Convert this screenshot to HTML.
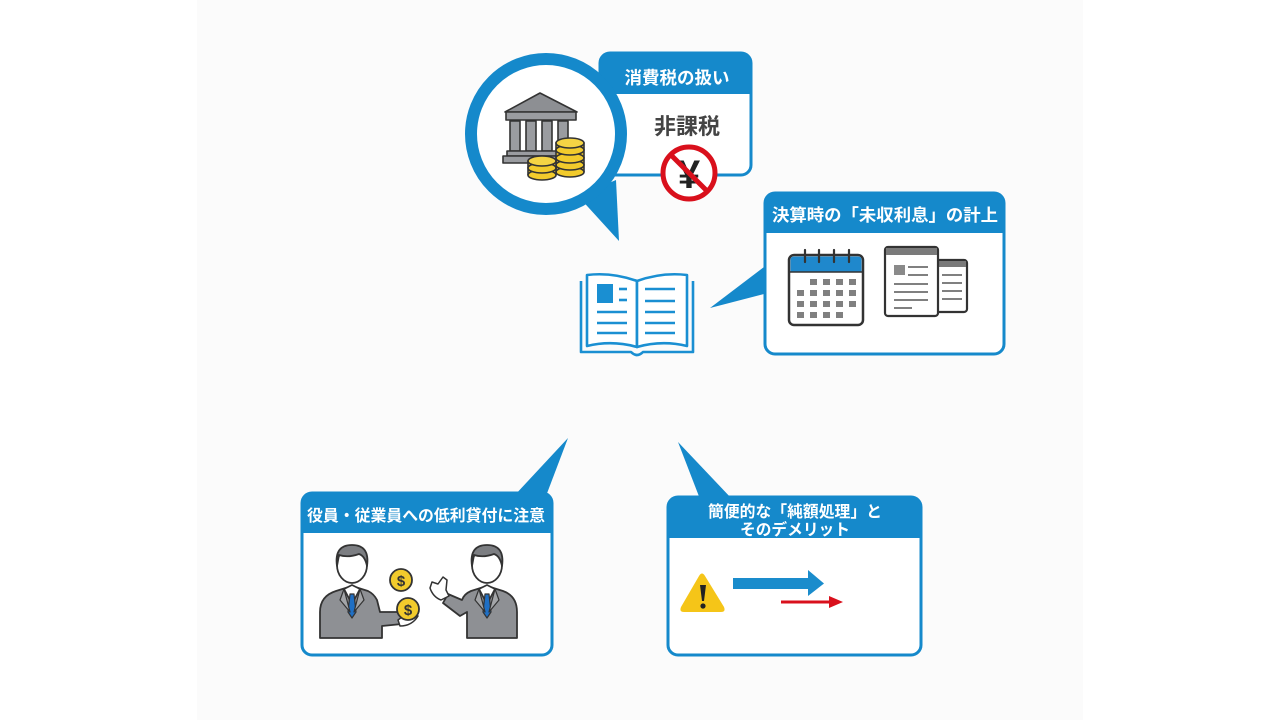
<!DOCTYPE html>
<html>
<head>
<meta charset="utf-8">
<style>
html,body{margin:0;padding:0;background:#fff;}
body{width:1280px;height:720px;overflow:hidden;}
svg{display:block;}
text{font-family:"Liberation Sans","Noto Sans CJK JP",sans-serif;font-weight:bold;}
</style>
</head>
<body>
<svg width="1280" height="720" viewBox="0 0 1280 720" xmlns="http://www.w3.org/2000/svg">
  <rect x="0" y="0" width="1280" height="720" fill="#ffffff"/>
  <rect x="197" y="0" width="886" height="720" fill="#fbfbfb"/>

  <!-- ============ TOP BUBBLE ============ -->
  <rect x="600" y="53" width="151" height="122" rx="10" fill="#ffffff" stroke="#1589cb" stroke-width="3"/>
  <path d="M600,94 L600,63 Q600,53 610,53 L741,53 Q751,53 751,63 L751,94 Z" fill="#1589cb"/>
  <text x="677" y="84" font-size="17.5" fill="#ffffff" text-anchor="middle">消費税の扱い</text>
  <text x="687" y="134" font-size="22" fill="#444444" text-anchor="middle">非課税</text>

  <polygon points="578,196 619,241 616,180" fill="#1589cb"/>
  <circle cx="546" cy="134" r="75" fill="#ffffff" stroke="#1589cb" stroke-width="12"/>

  <!-- bank icon -->
  <g stroke="#333" stroke-width="1.6" stroke-linejoin="round">
    <polygon points="540,93 577,112 505,112" fill="#8d8f93"/>
    <rect x="506" y="112" width="70" height="8" fill="#9a9ca0"/>
    <rect x="510" y="121" width="10" height="30" fill="#9a9ca0"/>
    <rect x="526" y="121" width="10" height="30" fill="#9a9ca0"/>
    <rect x="542" y="121" width="10" height="30" fill="#9a9ca0"/>
    <rect x="558" y="121" width="10" height="30" fill="#9a9ca0"/>
    <rect x="507" y="151" width="64" height="5" fill="#9a9ca0"/>
    <rect x="503" y="156" width="60" height="7" fill="#9a9ca0"/>
    <!-- right coin stack -->
    <rect x="556" y="143" width="28" height="29" fill="#f2cb2c"/>
    <ellipse cx="570" cy="172" rx="14" ry="5" fill="#f2cb2c"/>
    <ellipse cx="570" cy="165" rx="14" ry="5" fill="#f2cb2c"/>
    <ellipse cx="570" cy="158" rx="14" ry="5" fill="#f2cb2c"/>
    <ellipse cx="570" cy="150" rx="14" ry="5" fill="#f2cb2c"/>
    <ellipse cx="570" cy="143" rx="14" ry="5" fill="#f5d444"/>
    <!-- left coin stack -->
    <rect x="528" y="161" width="28" height="14" fill="#f2cb2c"/>
    <ellipse cx="542" cy="175" rx="14" ry="5" fill="#f2cb2c"/>
    <ellipse cx="542" cy="168" rx="14" ry="5" fill="#f2cb2c"/>
    <ellipse cx="542" cy="161" rx="14" ry="5" fill="#f5d444"/>
  </g>

  <!-- no-yen sign -->
  <circle cx="689" cy="173" r="26" fill="#ffffff" stroke="#d9101c" stroke-width="5"/>
  <text x="689" y="188" font-size="40" fill="#222" text-anchor="middle">¥</text>
  <line x1="671" y1="155" x2="707" y2="191" stroke="#d9101c" stroke-width="5"/>

  <!-- ============ RIGHT BUBBLE ============ -->
  <polygon points="768,264 710,308 768,293" fill="#1589cb"/>
  <rect x="765" y="193" width="239" height="161" rx="10" fill="#ffffff" stroke="#1589cb" stroke-width="3"/>
  <path d="M765,233 L765,203 Q765,193 775,193 L994,193 Q1004,193 1004,203 L1004,233 Z" fill="#1589cb"/>
  <text x="885" y="221" font-size="17" fill="#ffffff" text-anchor="middle" textLength="226" lengthAdjust="spacingAndGlyphs">決算時の「未収利息」の計上</text>

  <!-- calendar -->
  <g>
    <rect x="789" y="255" width="74" height="70" rx="5" fill="#ffffff" stroke="#333" stroke-width="2.5"/>
    <path d="M790.5,272 L790.5,260 Q790.5,256.5 794,256.5 L858,256.5 Q861.5,256.5 861.5,260 L861.5,272 Z" fill="#1f88cc"/>
    <line x1="790" y1="272" x2="862" y2="272" stroke="#333" stroke-width="1.5"/>
    <g stroke="#333" stroke-width="2.2" stroke-linecap="round">
      <line x1="805" y1="250" x2="805" y2="262"/>
      <line x1="819" y1="250" x2="819" y2="262"/>
      <line x1="834" y1="250" x2="834" y2="262"/>
      <line x1="849" y1="250" x2="849" y2="262"/>
    </g>
    <g fill="#808080">
      <rect x="810" y="279" width="7" height="6"/><rect x="823" y="279" width="7" height="6"/><rect x="836" y="279" width="7" height="6"/><rect x="849" y="279" width="7" height="6"/>
      <rect x="797" y="290" width="7" height="6"/><rect x="810" y="290" width="7" height="6"/><rect x="823" y="290" width="7" height="6"/><rect x="836" y="290" width="7" height="6"/><rect x="849" y="290" width="7" height="6"/>
      <rect x="797" y="301" width="7" height="6"/><rect x="810" y="301" width="7" height="6"/><rect x="823" y="301" width="7" height="6"/><rect x="836" y="301" width="7" height="6"/><rect x="849" y="301" width="7" height="6"/>
      <rect x="797" y="312" width="7" height="6"/><rect x="810" y="312" width="7" height="6"/><rect x="823" y="312" width="7" height="6"/><rect x="836" y="312" width="7" height="6"/>
    </g>
  </g>

  <!-- documents -->
  <g>
    <rect x="934" y="260" width="33" height="52" rx="3" fill="#ffffff" stroke="#333" stroke-width="2.2"/>
    <rect x="935" y="261" width="31" height="6" fill="#7a7a7a"/>
    <g stroke="#808080" stroke-width="2">
      <line x1="942" y1="275" x2="962" y2="275"/>
      <line x1="942" y1="283" x2="962" y2="283"/>
      <line x1="942" y1="291" x2="962" y2="291"/>
      <line x1="942" y1="299" x2="962" y2="299"/>
    </g>
    <rect x="885" y="247" width="53" height="69" rx="3" fill="#ffffff" stroke="#333" stroke-width="2.2"/>
    <rect x="886" y="248" width="51" height="7" fill="#7a7a7a"/>
    <rect x="894" y="265" width="11" height="10" fill="#8a8a8a"/>
    <g stroke="#808080" stroke-width="2">
      <line x1="908" y1="267" x2="928" y2="267"/>
      <line x1="908" y1="275" x2="928" y2="275"/>
      <line x1="894" y1="284" x2="928" y2="284"/>
      <line x1="894" y1="292" x2="928" y2="292"/>
      <line x1="894" y1="300" x2="928" y2="300"/>
      <line x1="894" y1="308" x2="912" y2="308"/>
    </g>
  </g>

  <!-- ============ BOOK ============ -->
  <g fill="none" stroke="#1a8fd2" stroke-width="2.6" stroke-linejoin="round">
    <path d="M581,281 L581,352 L631,352 Q637,358 643,352 L693,352 L693,281"/>
    <path d="M587,275 Q612,272 637,281 L637,347 Q612,340 587,346 Z" fill="#ffffff"/>
    <path d="M687,275 Q662,272 637,281 L637,347 Q662,340 687,346 Z" fill="#ffffff"/>
  </g>
  <rect x="597" y="284" width="16" height="19" fill="#1a8fd2"/>
  <g stroke="#1a8fd2" stroke-width="2.6">
    <line x1="619" y1="289" x2="627" y2="289"/>
    <line x1="619" y1="300" x2="627" y2="300"/>
    <line x1="597" y1="312" x2="627" y2="312"/>
    <line x1="597" y1="323" x2="627" y2="323"/>
    <line x1="597" y1="333" x2="627" y2="333"/>
    <line x1="645" y1="289" x2="675" y2="289"/>
    <line x1="645" y1="301" x2="675" y2="301"/>
    <line x1="645" y1="312" x2="675" y2="312"/>
    <line x1="645" y1="323" x2="675" y2="323"/>
    <line x1="645" y1="333" x2="675" y2="333"/>
  </g>

  <!-- ============ BOTTOM LEFT BUBBLE ============ -->
  <polygon points="514,496 568,438 546,496" fill="#1589cb"/>
  <rect x="302" y="493" width="250" height="162" rx="10" fill="#ffffff" stroke="#1589cb" stroke-width="3"/>
  <path d="M302,533 L302,503 Q302,493 312,493 L542,493 Q552,493 552,503 L552,533 Z" fill="#1589cb"/>
  <text x="426" y="521" font-size="16" fill="#ffffff" text-anchor="middle" textLength="238" lengthAdjust="spacingAndGlyphs">役員・従業員への低利貸付に注意</text>

  <!-- left man -->
  <g stroke="#333" stroke-width="1.8" stroke-linejoin="round" stroke-linecap="round">
    <path d="M320,638 L320,612 Q320,596 336,591 L352,586 L368,591 Q374,594 377,600 L380,612 L402,612 L402,624 L382,626 L382,638 Z" fill="#8e9094"/>
    <path d="M344,589 L352,604 L360,589 L352,585 Z" fill="#ffffff"/>
    <path d="M350,594 L354,594 L356,612 L352,618 L348,612 Z" fill="#1f6fc4" stroke-width="1.2"/>
    <path d="M344,589 L340,600 L350,612 Z M360,589 L364,600 L354,612 Z" fill="#a3a5a8" stroke-width="1.2"/>
    <ellipse cx="352" cy="565" rx="15" ry="18" fill="#ffffff"/>
    <path d="M337,566 Q334,545 352,545 Q370,545 367,566 Q365,556 359,554 Q348,558 339,555 Z" fill="#7c7e82"/>
    <path d="M398,620 Q408,612 418,616 Q412,626 400,626 Z" fill="#ffffff" stroke-width="1.5"/>
  </g>
  <g stroke="#333" stroke-width="1.8">
    <circle cx="401" cy="580" r="11" fill="#f2cb2c"/>
    <circle cx="408" cy="609" r="11" fill="#f2cb2c"/>
  </g>
  <text x="401" y="586" font-size="15" fill="#333" text-anchor="middle">$</text>
  <text x="408" y="615" font-size="15" fill="#333" text-anchor="middle">$</text>

  <!-- right man -->
  <g stroke="#333" stroke-width="1.8" stroke-linejoin="round" stroke-linecap="round">
    <path d="M517,638 L517,612 Q517,596 503,591 L487,586 L471,591 Q464,594 462,600 L448,594 L443,603 L460,616 L467,612 L467,638 Z" fill="#8e9094"/>
    <path d="M479,589 L487,604 L495,589 L487,585 Z" fill="#ffffff"/>
    <path d="M485,594 L489,594 L491,612 L487,618 L483,612 Z" fill="#1f6fc4" stroke-width="1.2"/>
    <path d="M479,589 L475,600 L485,612 Z M495,589 L499,600 L489,612 Z" fill="#a3a5a8" stroke-width="1.2"/>
    <ellipse cx="487" cy="565" rx="15" ry="18" fill="#ffffff"/>
    <path d="M472,566 Q469,545 487,545 Q505,545 502,566 Q500,556 494,554 Q483,558 474,555 Z" fill="#7c7e82"/>
    <path d="M430,588 L432,582 L438,584 L443,577 L447,580 L446,590 L449,596 L441,600 Q433,597 430,588 Z" fill="#ffffff" stroke-width="1.5"/>
  </g>

  <!-- ============ BOTTOM RIGHT BUBBLE ============ -->
  <polygon points="700,499 678,442 732,499" fill="#1589cb"/>
  <rect x="668" y="497" width="253" height="158" rx="10" fill="#ffffff" stroke="#1589cb" stroke-width="3"/>
  <path d="M668,538 L668,507 Q668,497 678,497 L911,497 Q921,497 921,507 L921,538 Z" fill="#1589cb"/>
  <text x="795" y="517" font-size="16" fill="#ffffff" text-anchor="middle" textLength="174" lengthAdjust="spacingAndGlyphs">簡便的な「純額処理」と</text>
  <text x="795" y="535" font-size="16" fill="#ffffff" text-anchor="middle" textLength="110" lengthAdjust="spacingAndGlyphs">そのデメリット</text>

  <!-- warning -->
  <path d="M699,576 Q702,571 705,576 L724,607 Q726,612 721,612 L684,612 Q679,612 681,607 Z" fill="#f5c518"/>
  <path d="M700,585 L706,585 L704,601 L702,601 Z" fill="#222"/>
  <circle cx="703" cy="606" r="2.6" fill="#222"/>

  <!-- arrows -->
  <rect x="733" y="578" width="77" height="11" fill="#1a8ccc"/>
  <polygon points="808,570 824,583.5 808,596" fill="#1a8ccc"/>
  <line x1="781" y1="602" x2="832" y2="602" stroke="#d9101c" stroke-width="3"/>
  <polygon points="829,596 843,602 829,608" fill="#d9101c"/>
</svg>
</body>
</html>
